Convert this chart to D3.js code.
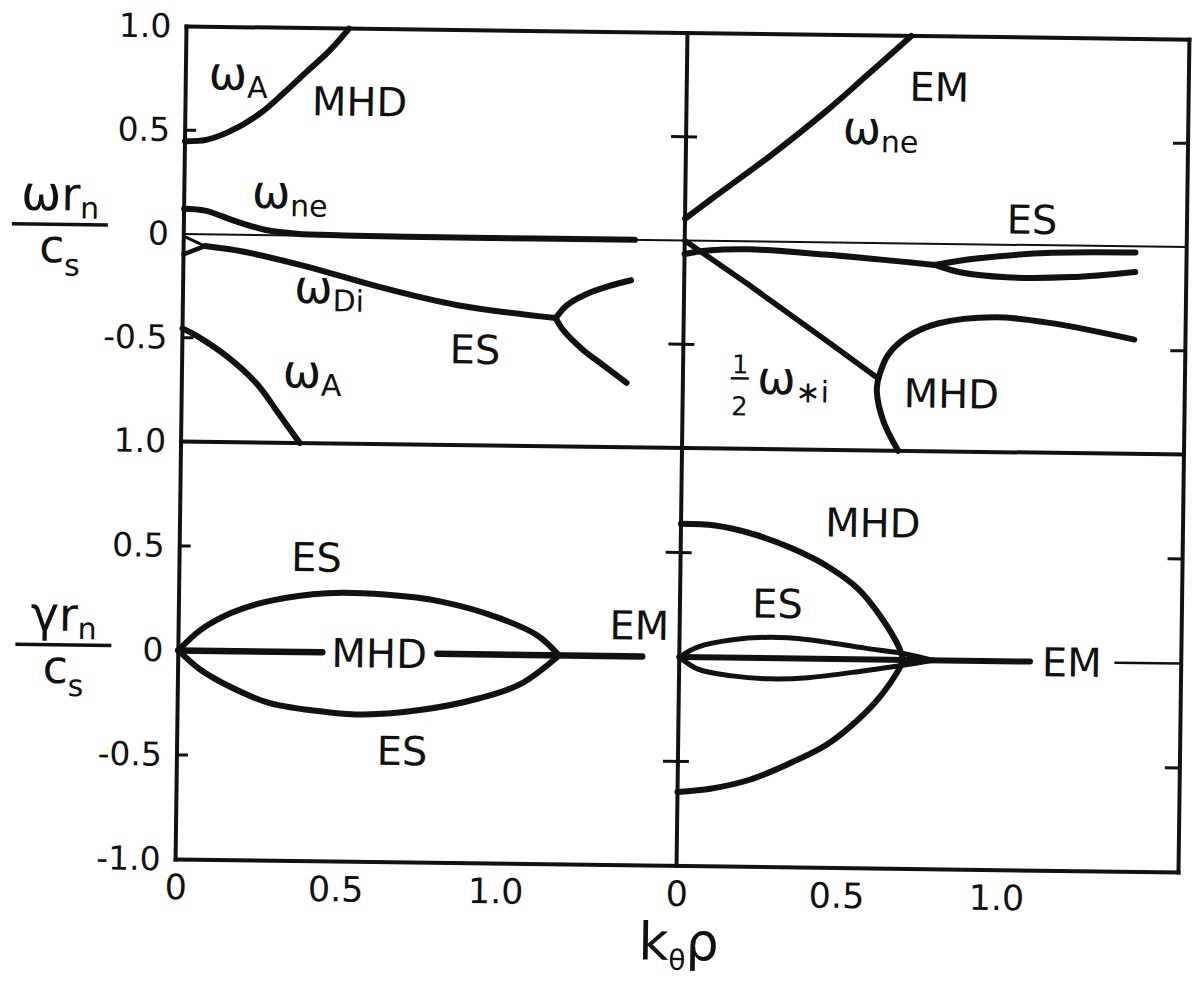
<!DOCTYPE html>
<html><head><meta charset="utf-8">
<script src="https://cdn.jsdelivr.net/npm/d3@7"></script>
<style>
body{margin:0;background:#fff}
text{font-family:"DejaVu Sans",sans-serif;fill:#111}
</style>
</head><body>
<svg id="chart" width="1195" height="984"></svg>
<script>
// ---------- data (k_theta rho, value) ----------
// top-left: omega r_n / c_s
const wAUpK = [0, 0.066, 0.138, 0.233, 0.305, 0.377, 0.449, 0.508];
const wAUpW = [0.447, 0.455, 0.496, 0.585, 0.683, 0.789, 0.894, 1.0];
const wNeK  = [0, 0.066, 0.161, 0.257, 0.353, 0.5, 0.8, 1.1, 1.41];
const wNeW  = [0.122, 0.114, 0.065, 0.024, 0.008, 0.003, 0.0, 0.0, 0.0];
const tipK  = [0, 0.066];
const tipUpW = [-0.01, -0.057];
const tipLoW = [-0.098, -0.057];
const wDiK  = [0.066, 0.185, 0.377, 0.616, 0.855, 1.166];
const wDiW  = [-0.057, -0.081, -0.146, -0.244, -0.325, -0.382];
const esLUpK = [1.166, 1.2, 1.26, 1.33, 1.40];
const esLUpW = [-0.382, -0.32, -0.265, -0.225, -0.195];
const esLDnK = [1.166, 1.19, 1.25, 1.32, 1.39];
const esLDnW = [-0.382, -0.44, -0.53, -0.61, -0.69];
const wALoK = [0, 0.042, 0.138, 0.233, 0.305, 0.371];
const wALoW = [-0.455, -0.488, -0.585, -0.715, -0.862, -1.0];

// top-right
const emK = [0, 0.083, 0.261, 0.439, 0.558, 0.70];
const emW = [0.105, 0.203, 0.41, 0.635, 0.80, 1.0];
const esRK = [0, 0.071, 0.2, 0.439, 0.783];
const esRW = [-0.065, -0.047, -0.038, -0.059, -0.102];
const esRUpK = [0.783, 0.913, 1.15, 1.41];
const esRUpW = [-0.102, -0.068, -0.036, -0.029];
const esRDnK = [0.783, 0.866, 1.008, 1.21, 1.41];
const esRDnW = [-0.102, -0.137, -0.157, -0.152, -0.123];
const wsiK = [0, 0.2, 0.44, 0.611];
const wsiW = [0, -0.207, -0.466, -0.653];
const mhdRUpK = [0.611, 0.64, 0.70, 0.795, 0.973, 1.15, 1.41];
const mhdRUpW = [-0.653, -0.54, -0.45, -0.384, -0.35, -0.375, -0.449];
const mhdRDnK = [0.611, 0.607, 0.629, 0.676];
const mhdRDnW = [-0.653, -0.718, -0.86, -1.0];

// bottom-left: gamma r_n / c_s
const gEsUpK = [0, 0.069, 0.165, 0.285, 0.464, 0.644, 0.823, 1.0, 1.122, 1.19];
const gEsUpG = [0, 0.1, 0.184, 0.243, 0.283, 0.28, 0.249, 0.176, 0.094, 0];
const gEsDnK = [0, 0.069, 0.165, 0.285, 0.464, 0.584, 0.763, 0.943, 1.07, 1.19];
const gEsDnG = [0, -0.09, -0.172, -0.245, -0.285, -0.295, -0.269, -0.21, -0.14, 0];
const gMhdAK = [0, 0.45];
const gMhdBK = [0.81, 1.45];
const zeroG = [0, 0];

// bottom-right
const gMhdRK = [0, 0.107, 0.225, 0.344, 0.463, 0.558, 0.629, 0.688, 0.70];
const gMhdRUpG = [0.637, 0.631, 0.593, 0.529, 0.44, 0.335, 0.204, 0.056, 0];
const gMhdRDnG = [-0.646, -0.627, -0.583, -0.506, -0.412, -0.294, -0.178, -0.043, 0];
const gEsRK = [0, 0.059, 0.166, 0.285, 0.403, 0.581, 0.70, 0.795];
const gEsRUpG = [0, 0.05, 0.086, 0.1, 0.091, 0.054, 0.031, 0];
const gEsRDnG = [0, -0.057, -0.087, -0.099, -0.091, -0.054, -0.026, 0];
const gEmRK = [0, 1.097];
const gEmTickK = [1.364, 1.57];

// ticks
const yTicksTop = [1, 0.5, 0, -0.5, -1];
const yLabelsTop = ["1.0", "0.5", "0", "-0.5", "1.0"];
const yTicksBot = [0.5, 0, -0.5, -1];
const yLabelsBot = ["0.5", "0", "-0.5", "-1.0"];
const xTicks = [0, 0.5, 1.0];
const xLabels = ["0", "0.5", "1.0"];
const markTicks = [0.5, -0.5];

// labels (data coordinates)
const capLabels = [
  {p:"TL", t:"MHD", k:0.544, v:0.65},
  {p:"TL", t:"ES",  k:0.915, v:-0.537},
  {p:"TR", t:"EM",  k:0.79,  v:0.757},
  {p:"TR", t:"ES",  k:1.085, v:0.124},
  {p:"TR", t:"MHD", k:0.84,  v:-0.72},
  {p:"BL", t:"ES",  k:0.428, v:0.456},
  {p:"BL", t:"MHD", k:0.628, v:0.0},
  {p:"BL", t:"ES",  k:0.703, v:-0.465},
  {p:"BL", t:"EM",  k:1.44,  v:0.15},
  {p:"BR", t:"MHD", k:0.60,  v:0.655},
  {p:"BR", t:"ES",  k:0.305, v:0.263},
  {p:"BR", t:"EM",  k:1.228, v:0.0}
];
const omegaLabels = [
  {p:"TL", sub:"A",  k:0.164, v:0.699},
  {p:"TL", sub:"ne", k:0.33,  v:0.13},
  {p:"TL", sub:"Di", k:0.457, v:-0.325},
  {p:"TL", sub:"A",  k:0.407, v:-0.732},
  {p:"TR", sub:"ne", k:0.608, v:0.476}
];

// ---------- layout ----------
const L = 181, M = 682, R = 1184, T = 33, H = 448, B = 866;
const xL = d3.scaleLinear().domain([0, 1.566]).range([L, M]);
const xR = d3.scaleLinear().domain([0, 1.57]).range([M, R]);
const yT = d3.scaleLinear().domain([-1, 1]).range([H, T]);
const yB = d3.scaleLinear().domain([-1, 1]).range([B, H]);
const panels = {TL:[xL,yT], TR:[xR,yT], BL:[xL,yB], BR:[xR,yB]};

const svg = d3.select("#chart");
svg.append("rect").attr("width",1195).attr("height",984).attr("fill","#fff");
const g = svg.append("g").attr("transform","rotate(0.75,682,449)");

function curve(p, ks, vs, w, linear) {
  const [x, y] = panels[p];
  const pts = ks.map((k,i)=>[k, vs[i]]);
  const line = d3.line().x(d=>x(d[0])).y(d=>y(d[1]))
    .curve(linear ? d3.curveLinear : d3.curveCatmullRom.alpha(0.5));
  g.append("path").attr("d", line(pts)).attr("fill","none")
    .attr("stroke","#111").attr("stroke-width", w||6)
    .attr("stroke-linecap","round").attr("stroke-linejoin","round");
}

// top panel zero line (thin, across both panels)
g.append("line").attr("x1",L).attr("x2",R).attr("y1",yT(0)).attr("y2",yT(0))
  .attr("stroke","#111").attr("stroke-width",2);

// frame
const frame = [[L,T,R,T],[L,B,R,B],[L,T,L,B],[R,T,R,B],[M,T,M,B],[L,H,R,H]];
frame.forEach(f=>g.append("line").attr("x1",f[0]).attr("y1",f[1]).attr("x2",f[2]).attr("y2",f[3])
  .attr("stroke","#111").attr("stroke-width",4).attr("stroke-linecap","square"));

// tick marks
[yT, yB].forEach(y=>{
  markTicks.forEach(v=>{
    const yy = y(v);
    g.append("line").attr("x1",L).attr("x2",L+11).attr("y1",yy).attr("y2",yy).attr("stroke","#111").attr("stroke-width",3);
    g.append("line").attr("x1",M-15).attr("x2",M+11).attr("y1",yy).attr("y2",yy).attr("stroke","#111").attr("stroke-width",3);
    g.append("line").attr("x1",R-15).attr("x2",R).attr("y1",yy).attr("y2",yy).attr("stroke","#111").attr("stroke-width",3);
  });
});

// curves top-left
curve("TL", wAUpK, wAUpW);
curve("TL", wNeK, wNeW);
curve("TL", tipK, tipUpW, 3, true);
curve("TL", tipK, tipLoW, 4.5, true);
curve("TL", wDiK, wDiW);
curve("TL", esLUpK, esLUpW);
curve("TL", esLDnK, esLDnW);
curve("TL", wALoK, wALoW);
// top-right
curve("TR", emK, emW);
curve("TR", esRK, esRW);
curve("TR", esRUpK, esRUpW);
curve("TR", esRDnK, esRDnW);
curve("TR", wsiK, wsiW, 5.5, true);
curve("TR", mhdRUpK, mhdRUpW);
curve("TR", mhdRDnK, mhdRDnW);
// bottom-left
curve("BL", gEsUpK, gEsUpG);
curve("BL", gEsDnK, gEsDnG);
curve("BL", gMhdAK, zeroG, 6.5, true);
curve("BL", gMhdBK, zeroG, 6.5, true);
// bottom-right
curve("BR", gMhdRK, gMhdRUpG);
curve("BR", gMhdRK, gMhdRDnG);
curve("BR", gEsRK, gEsRUpG, 5);
curve("BR", gEsRK, gEsRDnG, 5);
curve("BR", gEmRK, zeroG, 6, true);
curve("BR", gEmTickK, zeroG, 2.5, true);

// axes labels via d3 axes
function styleAxis(sel, size){
  sel.select(".domain").remove();
  sel.selectAll("text").attr("font-size", size).attr("font-family","DejaVu Sans, sans-serif").attr("fill","#111");
}
g.append("g").attr("transform",`translate(${L},0)`)
  .call(d3.axisLeft(yT).tickValues(yTicksTop).tickFormat((d,i)=>yLabelsTop[i]).tickSize(0).tickPadding(15))
  .call(s=>styleAxis(s,33));
g.append("g").attr("transform",`translate(${L},0)`)
  .call(d3.axisLeft(yB).tickValues(yTicksBot).tickFormat((d,i)=>yLabelsBot[i]).tickSize(0).tickPadding(15))
  .call(s=>styleAxis(s,33));
[xL, xR].forEach(x=>{
  g.append("g").attr("transform",`translate(0,${B})`)
    .call(d3.axisBottom(x).tickValues(xTicks).tickFormat((d,i)=>xLabels[i]).tickSize(0).tickPadding(15))
    .call(s=>styleAxis(s,35));
});

// region labels
capLabels.forEach(d=>{
  const [x,y] = panels[d.p];
  g.append("text").attr("x",x(d.k)).attr("y",y(d.v)+14.5).attr("text-anchor","middle")
    .attr("font-size",40).text(d.t);
});
omegaLabels.forEach(d=>{
  const [x,y] = panels[d.p];
  const t = g.append("text").attr("x",x(d.k)).attr("y",y(d.v)).attr("text-anchor","middle");
  t.append("tspan").attr("font-size",46).text("ω");
  t.append("tspan").attr("font-size",30).attr("dy",8).text(d.sub);
});
// 1/2 omega_*i
{
  const fk = 0.178;
  g.append("text").attr("x",xR(fk)).attr("y",yT(-0.637)).attr("text-anchor","middle").attr("font-size",26).text("1");
  g.append("line").attr("x1",xR(fk)-9).attr("x2",xR(fk)+9).attr("y1",yT(-0.661)).attr("y2",yT(-0.661))
    .attr("stroke","#111").attr("stroke-width",2.5);
  g.append("text").attr("x",xR(fk)).attr("y",yT(-0.839)).attr("text-anchor","middle").attr("font-size",26).text("2");
  const t = g.append("text").attr("x",xR(0.232)).attr("y",yT(-0.734));
  t.append("tspan").attr("font-size",46).text("ω");
  t.append("tspan").attr("font-size",30).attr("dy",8).text("∗i");
}

// y-axis titles (fractions)
function frac(cx, lineY, first){
  const n = g.append("text").attr("x",cx).attr("y",lineY-14).attr("text-anchor","middle");
  n.append("tspan").attr("font-size",48).text(first);
  n.append("tspan").attr("font-size",46).text("r");
  n.append("tspan").attr("font-size",30).attr("dy",8).text("n");
  g.append("line").attr("x1",cx-48).attr("x2",cx+48).attr("y1",lineY).attr("y2",lineY)
    .attr("stroke","#111").attr("stroke-width",3.5);
  const dn = g.append("text").attr("x",cx).attr("y",lineY+38).attr("text-anchor","middle");
  dn.append("tspan").attr("font-size",46).text("c");
  dn.append("tspan").attr("font-size",30).attr("dy",13).text("s");
}
frac(L-124, yT(0)-8, "ω");
frac(L-115, yB(0)-4, "γ");

// x-axis title
{
  const t = g.append("text").attr("x",M-37).attr("y",B+94);
  t.append("tspan").attr("font-size",52).text("k");
  t.append("tspan").attr("font-size",28).attr("dy",10).text("θ");
  t.append("tspan").attr("font-size",52).attr("dy",-10).text("ρ");
}
</script>
</body></html>
